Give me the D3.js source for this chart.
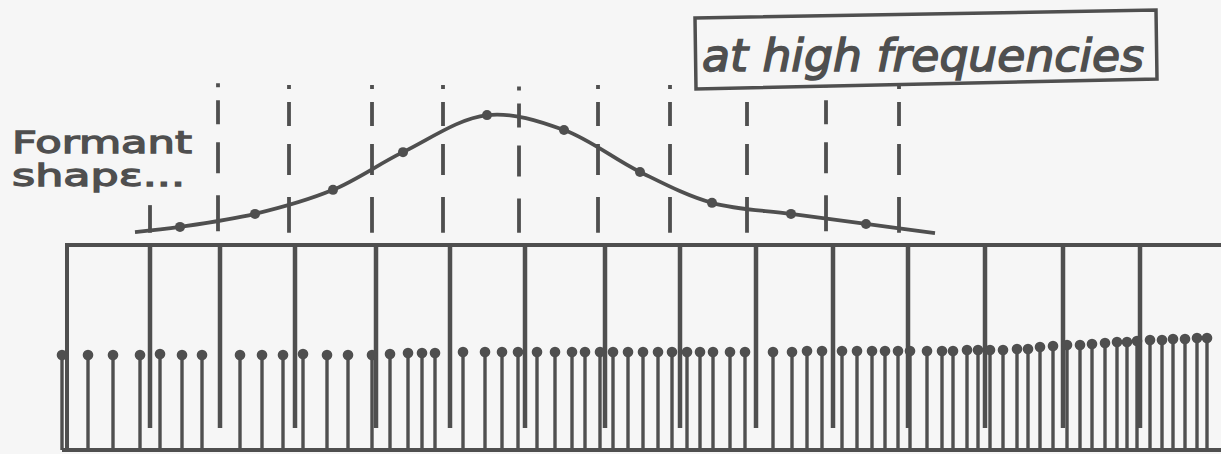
<!DOCTYPE html>
<html><head><meta charset="utf-8">
<script src="https://cdn.jsdelivr.net/npm/d3@7"></script>
<style>html,body{margin:0;padding:0;background:#f5f5f5;}svg{display:block;}</style>
</head><body>
<script>
// Frequencies in Hz
const combFreqs = [750, 1100, 1475, 1880, 2250, 2625, 3025, 3400, 3780, 4165, 4540, 4925, 5315, 5700];
const leftEdgeFreq = 335;
const dashFreqs = [750, 1090, 1445, 1860, 2215, 2595, 2990, 3350, 3735, 4130, 4495];
const dashTopDb = [9.5, 47, 46.5, 46.5, 46.5, 46, 46.5, 46.5, 46.5, 47, 46.5];
const formantFreqs = [675, 900, 1275, 1665, 2015, 2435, 2820, 3200, 3560, 3955, 4330, 4675];
const formantDb = [1.2, 2.8, 6.8, 14.2, 25.8, 37.2, 32.6, 19.7, 10.2, 6.8, 3.7, 0.9];
const pinFreqs = [310, 440, 565, 700, 800, 910, 1010, 1200, 1310, 1415, 1515, 1635, 1740, 1860, 1950, 2040, 2110, 2175, 2315, 2425, 2510, 2590, 2685, 2775, 2860, 2925, 3000, 3065, 3140, 3215, 3290, 3360, 3435, 3500, 3565, 3650, 3725, 3865, 3960, 4035, 4110, 4210, 4285, 4360, 4425, 4490, 4550, 4635, 4710, 4765, 4835, 4890, 4950, 5015, 5085, 5140, 5200, 5265, 5335, 5400, 5460, 5525, 5585, 5635, 5685, 5750, 5810, 5865, 5925, 5985, 6035];
const pinAmp = [94, 94, 94, 94, 95, 94, 94, 94, 94, 94, 95, 94, 94, 94, 95, 96, 96, 96, 97, 97, 97, 97, 97, 97, 97, 97, 97, 97, 97, 97, 97, 97, 97, 97, 97, 97, 97, 97, 97, 98, 98, 98, 98, 98, 98, 98, 98, 98, 98, 98, 99, 99, 99, 99, 100, 100, 102, 103, 104, 104, 105, 106, 107, 107, 108, 109, 109, 110, 110, 111, 111];
const labelLeft = ["Formant", "shapε..."];
const labelBox = "at high frequencies";

const W = 1221, H = 454, ink = "#4f4f4f";
const svg = d3.select("body").append("svg").attr("width", W).attr("height", H);
svg.append("rect").attr("width", W).attr("height", H).attr("fill", "#f6f6f6");

const x = d3.scaleLinear().domain([0, 6105]).range([0, 1221]);
const yF = d3.scaleLinear().domain([0, 40]).range([236, 106]);
const yPin = d3.scaleLinear().domain([0, 100]).range([449, 349]);
const topY = 245, combBottom = 428, baseY = 450;

// frame: top bar, left edge, baseline
svg.append("line").attr("x1", x(leftEdgeFreq) - 2).attr("x2", W).attr("y1", topY).attr("y2", topY)
  .attr("stroke", ink).attr("stroke-width", 4);
svg.append("line").attr("x1", x(leftEdgeFreq)).attr("x2", x(leftEdgeFreq)).attr("y1", topY).attr("y2", baseY + 2)
  .attr("stroke", ink).attr("stroke-width", 4);
svg.append("line").attr("x1", x(leftEdgeFreq) - 5).attr("x2", W).attr("y1", baseY).attr("y2", baseY)
  .attr("stroke", ink).attr("stroke-width", 4);

// comb (sampling) lines
svg.selectAll(".comb").data(combFreqs).join("line")
  .attr("x1", d => x(d)).attr("x2", d => x(d)).attr("y1", topY).attr("y2", combBottom)
  .attr("stroke", ink).attr("stroke-width", 4.5);

// pins (harmonics)
const pins = svg.append("g");
pins.selectAll("line").data(pinFreqs).join("line")
  .attr("x1", d => x(d)).attr("x2", d => x(d))
  .attr("y1", (d, i) => yPin(pinAmp[i])).attr("y2", baseY)
  .attr("stroke", ink).attr("stroke-width", 3.4);
pins.selectAll("circle").data(pinFreqs).join("circle")
  .attr("cx", d => x(d)).attr("cy", (d, i) => yPin(pinAmp[i]))
  .attr("r", 5.3).attr("fill", ink);

// dashed lines
svg.selectAll(".dash").data(dashFreqs).join("line")
  .attr("x1", d => x(d)).attr("x2", d => x(d))
  .attr("y1", (d, i) => yF(dashTopDb[i])).attr("y2", yF(1))
  .attr("stroke", ink).attr("stroke-width", 3.8)
  .attr("stroke-dasharray", (d, i) => i === 0 ? null : "4,13,24,18,31,22,36");

// formant curve
const pts = formantFreqs.map((f, i) => [f, formantDb[i]]);
svg.append("path").datum(pts)
  .attr("d", d3.line().x(d => x(d[0])).y(d => yF(d[1])).curve(d3.curveCatmullRom.alpha(0.5)))
  .attr("fill", "none").attr("stroke", ink).attr("stroke-width", 3.8);
svg.selectAll(".fdot").data(pts.slice(1, -1)).join("circle")
  .attr("cx", d => x(d[0])).attr("cy", d => yF(d[1])).attr("r", 5).attr("fill", ink);

// left label
svg.append("text").attr("x", 12).attr("y", 153).text(labelLeft[0])
  .attr("font-family", "DejaVu Sans").attr("font-size", 31).attr("fill", ink)
  .attr("stroke", ink).attr("stroke-width", 1.3)
  .attr("textLength", 180).attr("lengthAdjust", "spacingAndGlyphs");
svg.append("text").attr("x", 12).attr("y", 186).text(labelLeft[1])
  .attr("font-family", "DejaVu Sans").attr("font-size", 31).attr("fill", ink)
  .attr("stroke", ink).attr("stroke-width", 1.3)
  .attr("textLength", 173).attr("lengthAdjust", "spacingAndGlyphs");

// boxed label
svg.append("path").attr("d", "M695,18 L1156,10 L1157,79 L696,89 Z")
  .attr("fill", "#f6f6f6").attr("stroke", ink).attr("stroke-width", 3.5);
svg.append("text").attr("x", 702).attr("y", 71).text(labelBox)
  .attr("font-family", "DejaVu Sans").attr("font-style", "italic").attr("font-size", 44).attr("fill", ink)
  .attr("stroke", ink).attr("stroke-width", 1.5)
  .attr("textLength", 442).attr("lengthAdjust", "spacingAndGlyphs");
</script>
</body></html>
